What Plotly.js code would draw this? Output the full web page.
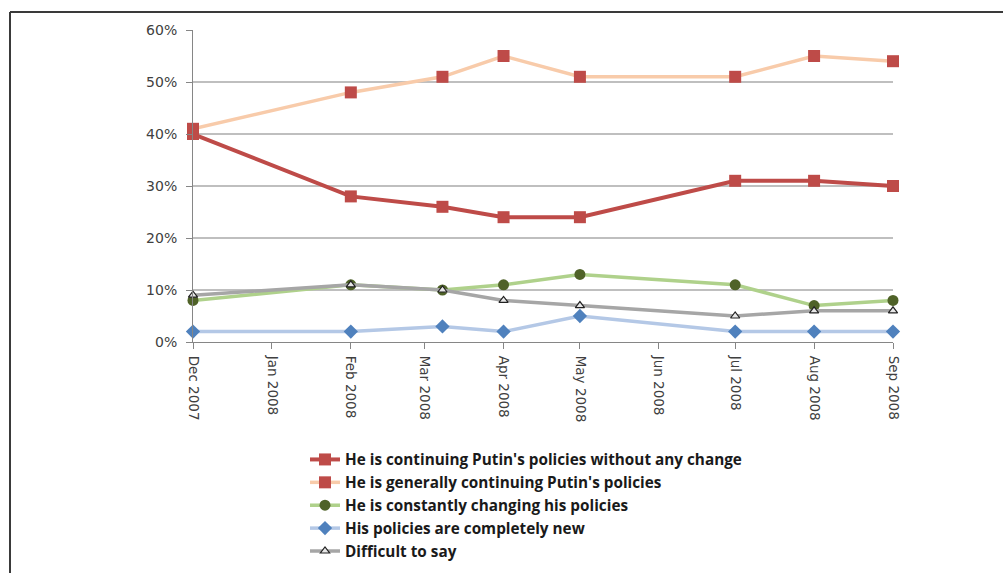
<!DOCTYPE html>
<html>
<head>
<meta charset="utf-8">
<script src="https://cdn.plot.ly/plotly-3.0.1.min.js"></script>
<style>
  html, body { margin: 0; padding: 0; background: #ffffff; }
  #chart { width: 1003px; height: 573px; }
</style>
</head>
<body>
<div id="chart"></div>
<script>
// Survey dates (monthly polls, Dec 2007 - Sep 2008)
const surveyDates = ['2007-12-01', '2008-02-01', '2008-03-08', '2008-04-01',
                     '2008-05-01', '2008-07-01', '2008-08-01', '2008-09-01'];

// Series names
const seriesNames = [
  "He is continuing Putin's policies without any change",
  "He is generally continuing Putin's policies",
  "He is constantly changing his policies",
  "His policies are completely new",
  "Difficult to say"
];

// Share of respondents, %
const withoutChange   = [40, 28, 26, 24, 24, 31, 31, 30];
const generallyCont   = [41, 48, 51, 55, 51, 51, 55, 54];
const constantlyChang = [8, 11, 10, 11, 13, 11, 7, 8];
const completelyNew   = [2, 2, 3, 2, 5, 2, 2, 2];
const difficultToSay  = [9, 11, 10, 8, 7, 5, 6, 6];

// Axis ticks
const yTicks = [0, 10, 20, 30, 40, 50, 60];
const yTickLabels = ['0%', '10%', '20%', '30%', '40%', '50%', '60%'];

function series(name, values, lineColor, lineWidth, marker) {
  return {
    type: 'scatter',
    mode: 'lines+markers',
    name: name,
    x: surveyDates,
    y: values,
    line: { color: lineColor, width: lineWidth },
    marker: marker,
    cliponaxis: false
  };
}

const traces = [
  series(seriesNames[0], withoutChange, '#BE4B48', 4,
         { symbol: 'square', size: 12, color: '#BE4B48' }),
  series(seriesNames[1], generallyCont, '#F8CBAA', 3.5,
         { symbol: 'square', size: 12, color: '#BE4B48' }),
  series(seriesNames[2], constantlyChang, '#AFD18B', 3.5,
         { symbol: 'circle', size: 11, color: '#4F6228' }),
  series(seriesNames[3], completelyNew, '#B4C8E6', 3.5,
         { symbol: 'diamond', size: 11, color: '#4F81BD' }),
  series(seriesNames[4], difficultToSay, '#A6A6A6', 3.5,
         { symbol: 'triangle-up', size: 8, color: '#E8E8E8',
           line: { color: '#222222', width: 1.2 } })
];

// Plot area: x 193..893, y 30..342 px
const L = 193, R = 893, T = 30, B = 342, W = 1003, H = 573;
const px = v => (v - L) / (R - L);
const py = v => 1 - (v - T) / (B - T);

const layout = {
  width: W,
  height: H,
  margin: { l: L, r: W - R, t: T, b: H - B, pad: 0, autoexpand: false },
  paper_bgcolor: '#ffffff',
  plot_bgcolor: '#ffffff',
  showlegend: true,
  font: { family: 'DejaVu Sans, sans-serif', color: '#404040', size: 14 },
  xaxis: {
    type: 'date',
    range: ['2007-12-01', '2008-09-01'],
    tick0: '2007-12-01',
    dtick: 'M1',
    tickformat: '%b %Y',
    tickangle: 90,
    ticks: 'outside',
    ticklen: 6,
    tickcolor: '#868686',
    ticklabelstandoff: 4,
    showgrid: false,
    zeroline: false,
    showline: true,
    linecolor: '#868686',
    linewidth: 1,
    tickfont: { family: 'DejaVu Sans, sans-serif', size: 13.5, color: '#404040' },
    fixedrange: true
  },
  yaxis: {
    range: [0, 60],
    tickmode: 'array',
    tickvals: yTicks,
    ticktext: yTickLabels,
    ticks: 'outside',
    ticklen: 6,
    tickcolor: '#868686',
    ticklabelstandoff: 6,
    showgrid: true,
    gridcolor: '#BFBFBF',
    gridwidth: 1.3,
    zeroline: false,
    showline: true,
    linecolor: '#868686',
    linewidth: 1,
    tickfont: { family: 'DejaVu Sans, sans-serif', size: 14, color: '#404040' },
    fixedrange: true
  },
  legend: {
    x: px(305),
    y: py(443),
    xanchor: 'left',
    yanchor: 'top',
    orientation: 'v',
    traceorder: 'normal',
    bgcolor: 'rgba(0,0,0,0)',
    itemwidth: 30,
    font: { family: 'Open Sans, sans-serif', size: 15.3, color: '#1a1a1a', weight: 'bold' }
  },
  shapes: [
    // outer frame: top and left edges
    { type: 'line', xref: 'paper', yref: 'paper',
      x0: px(10), x1: px(1010), y0: py(12), y1: py(12),
      line: { color: '#3a3a3a', width: 2 } },
    { type: 'line', xref: 'paper', yref: 'paper',
      x0: px(10), x1: px(10), y0: py(12), y1: py(580),
      line: { color: '#3a3a3a', width: 2 } }
  ]
};

Plotly.newPlot('chart', traces, layout, { staticPlot: true, displayModeBar: false });
</script>
</body>
</html>
